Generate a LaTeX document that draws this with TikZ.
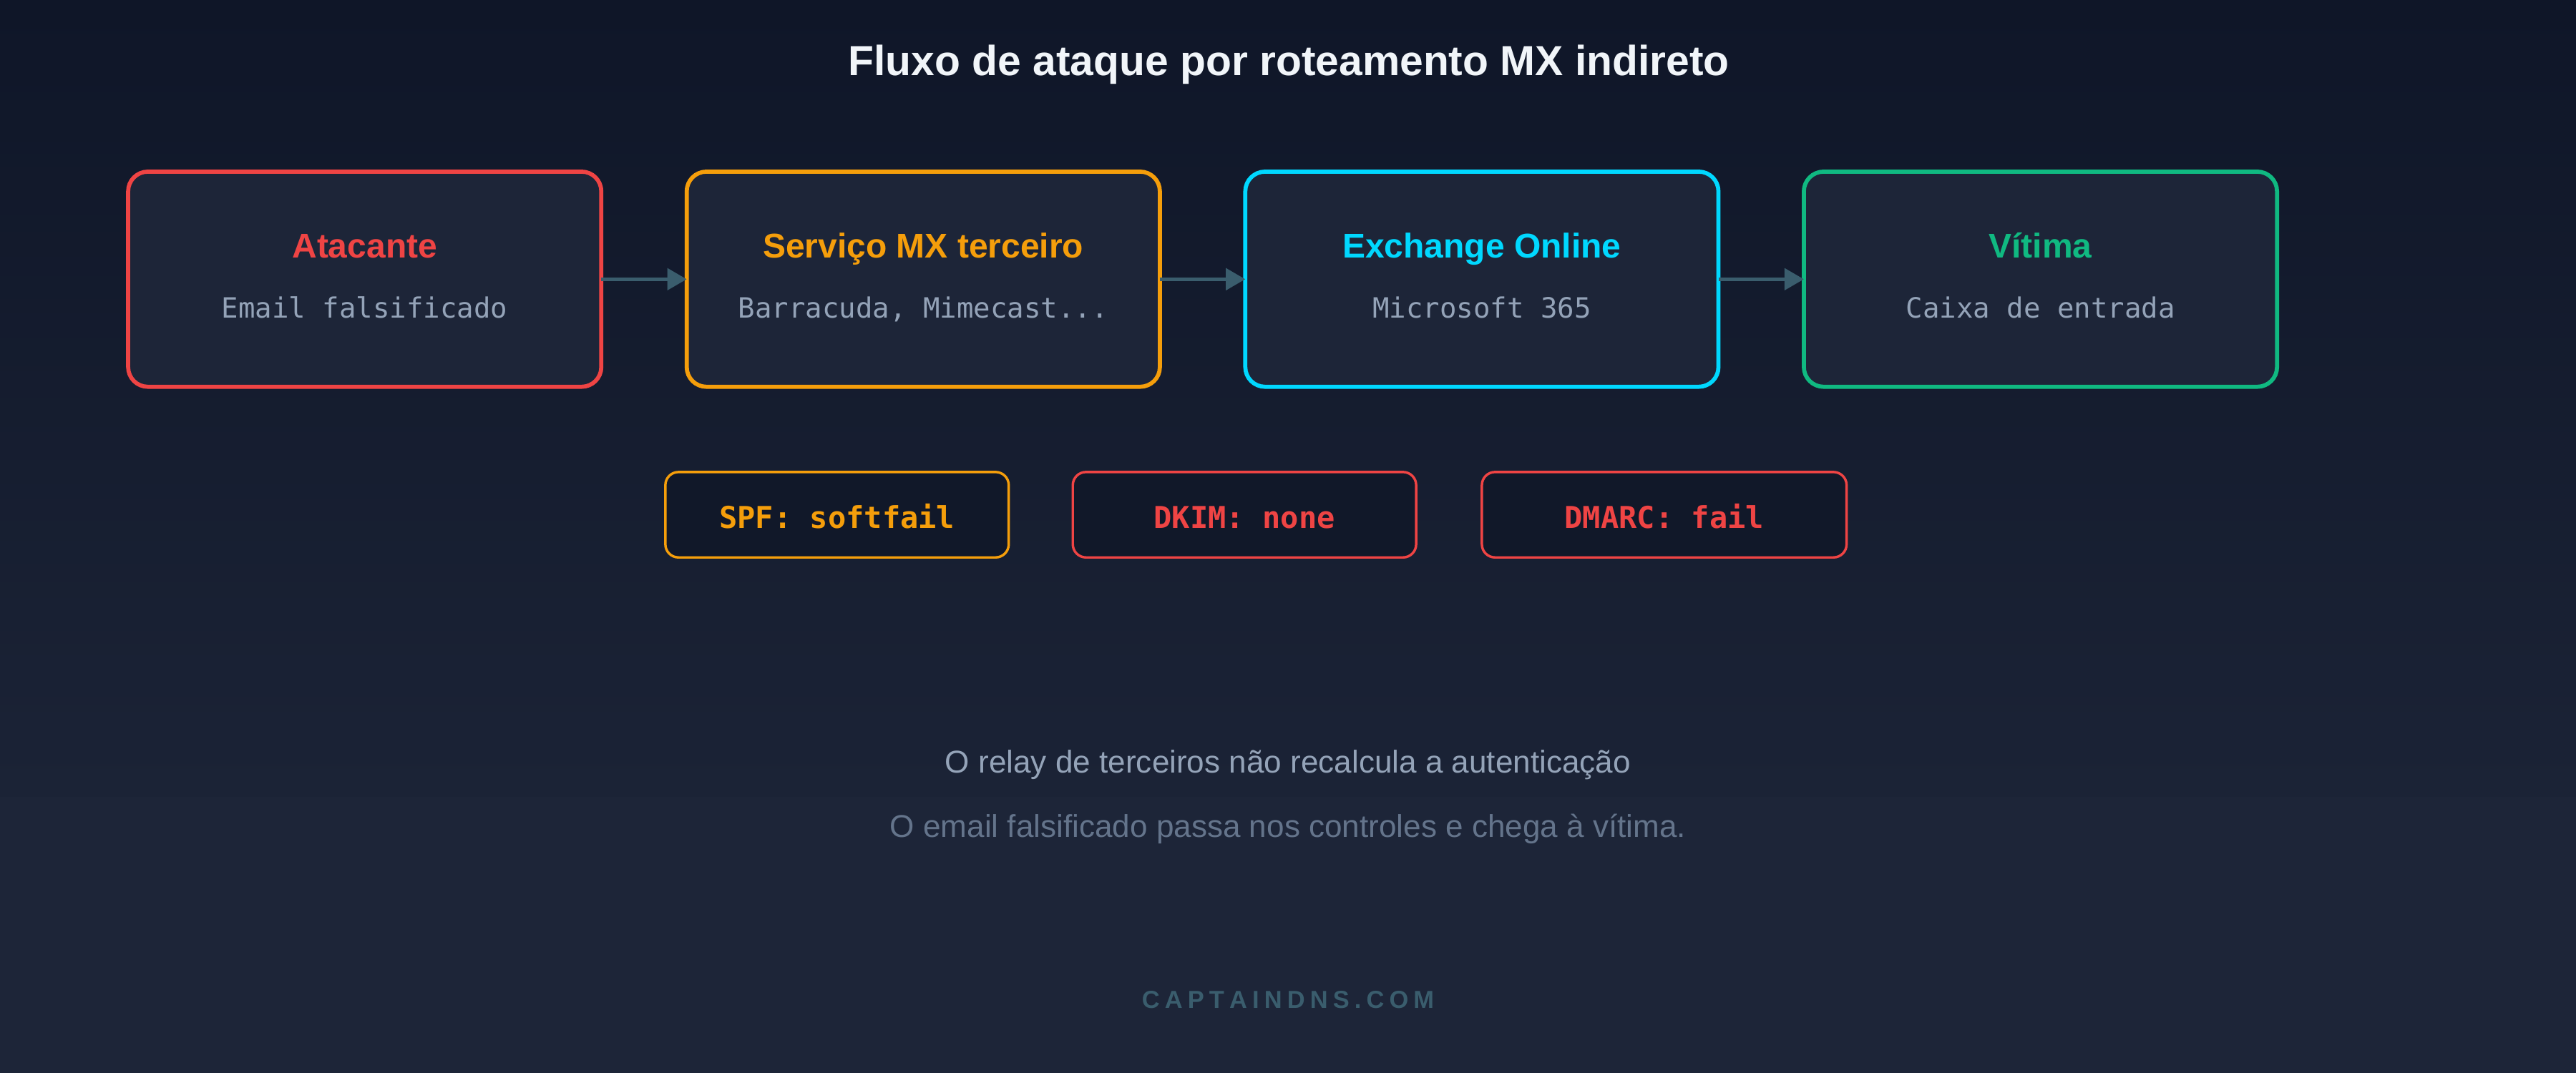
\documentclass[tikz,border=0pt]{standalone}
\usepackage{fontspec}
\setmainfont{Liberation Sans}
\newfontfamily\monof{DejaVu Sans Mono}
\usetikzlibrary{arrows.meta}
\definecolor{bgtop}{RGB}{15,22,40}
\definecolor{bgmid}{RGB}{27,35,54}
\definecolor{bgbot}{RGB}{29,37,56}
\definecolor{boxfill}{RGB}{29,37,56}
\definecolor{badgefill}{RGB}{17,24,41}
\definecolor{cred}{HTML}{EF4444}
\definecolor{corange}{HTML}{F59E0B}
\definecolor{ccyan}{HTML}{00D8FF}
\definecolor{cgreen}{HTML}{10B981}
\definecolor{ctitle}{HTML}{F1F5F9}
\definecolor{csub}{HTML}{94A3B8}
\definecolor{cnote}{HTML}{64748B}
\definecolor{cteal}{RGB}{58,93,109}
\newcommand\lsp{\kern3.1pt}
\tikzset{
  flowbox/.style={draw, fill=boxfill, line width=2.5pt, rounded corners=12pt,
    minimum width=288pt, minimum height=131pt, inner sep=0pt, outer sep=0pt},
  badge/.style={draw, fill=badgefill, line width=1.5pt, rounded corners=8pt,
    minimum height=52pt, inner sep=0pt, outer sep=0pt},
  boxtitle/.style={anchor=base, inner sep=0pt, font=\fontsize{20.9pt}{24pt}\selectfont\bfseries},
  boxsub/.style={anchor=base, inner sep=0pt, text=csub, font=\fontsize{17pt}{20pt}\selectfont\monof},
  badgetext/.style={anchor=base, inner sep=0pt, font=\fontsize{18.3pt}{22pt}\selectfont\monof\bfseries},
  flowarrow/.style={draw=cteal, line width=2.3pt, -{Triangle[length=11.8pt,width=13pt]}},
}
\begin{document}
\begin{tikzpicture}[x=1pt,y=-1pt]
\useasboundingbox (0,0) rectangle (1568,653.33);
\fill[bgbot] (0,0) rectangle (1568,653.33);
\shade[top color=bgtop,bottom color=bgmid] (0,0) rectangle (1568,485);

% title
\node[anchor=base, inner sep=0pt, text=ctitle, font=\fontsize{25.6pt}{30pt}\selectfont\bfseries] (title) at (784.5,46) {Fluxo de ataque por roteamento MX indireto};

% flow boxes
\node[flowbox, draw=cred] (b1) at (222,170) {};
\node[flowbox, draw=corange] (b2) at (562,170) {};
\node[flowbox, draw=ccyan] (b3) at (902,170) {};
\node[flowbox, draw=cgreen] (b4) at (1242,170) {};

\node[boxtitle, text=cred] (b1t) at (222,156.8) {Atacante};
\node[boxtitle, text=corange] (b2t) at (562,156.8) {Serviço MX terceiro};
\node[boxtitle, text=ccyan] (b3t) at (902,156.8) {Exchange Online};
\node[boxtitle, text=cgreen] (b4t) at (1242,156.8) {Vítima};

\node[boxsub] (b1s) at (222,193.5) {Email falsificado};
\node[boxsub] (b2s) at (562,193.5) {Barracuda, Mimecast...};
\node[boxsub] (b3s) at (902,193.5) {Microsoft 365};
\node[boxsub] (b4s) at (1242,193.5) {Caixa de entrada};

\draw[flowarrow] (b1.east) -- (b2.west);
\draw[flowarrow] (b2.east) -- (b3.west);
\draw[flowarrow] (b3.east) -- (b4.west);

% badges
\node[badge, draw=corange, minimum width=209pt] (spf) at (509.5,313.4) {};
\node[badge, draw=cred, minimum width=209pt] (dkim) at (757.5,313.4) {};
\node[badge, draw=cred, minimum width=222pt] (dmarc) at (1013,313.4) {};
\node[badgetext, text=corange] (spft) at (509.5,321.5) {SPF: softfail};
\node[badgetext, text=cred] (dkimt) at (757.5,321.5) {DKIM: none};
\node[badgetext, text=cred] (dmarct) at (1013,321.5) {DMARC: fail};

% notes
\node[anchor=base, inner sep=0pt, text=csub, font=\fontsize{19.2pt}{22pt}\selectfont] (note1) at (784,470.7) {O relay de terceiros não recalcula a autenticação};
\node[anchor=base, inner sep=0pt, text=cnote, font=\fontsize{19.2pt}{22pt}\selectfont] (note2) at (784,509.9) {O email falsificado passa nos controles e chega à vítima.};

% footer
\node[anchor=base, inner sep=0pt, text=cteal, font=\fontsize{15pt}{18pt}\selectfont\bfseries] (footer) at (784,614.1) {C\lsp A\lsp P\lsp T\lsp A\lsp I\lsp N\lsp D\lsp N\lsp S\lsp .\lsp C\lsp O\lsp M};
\end{tikzpicture}
\end{document}
